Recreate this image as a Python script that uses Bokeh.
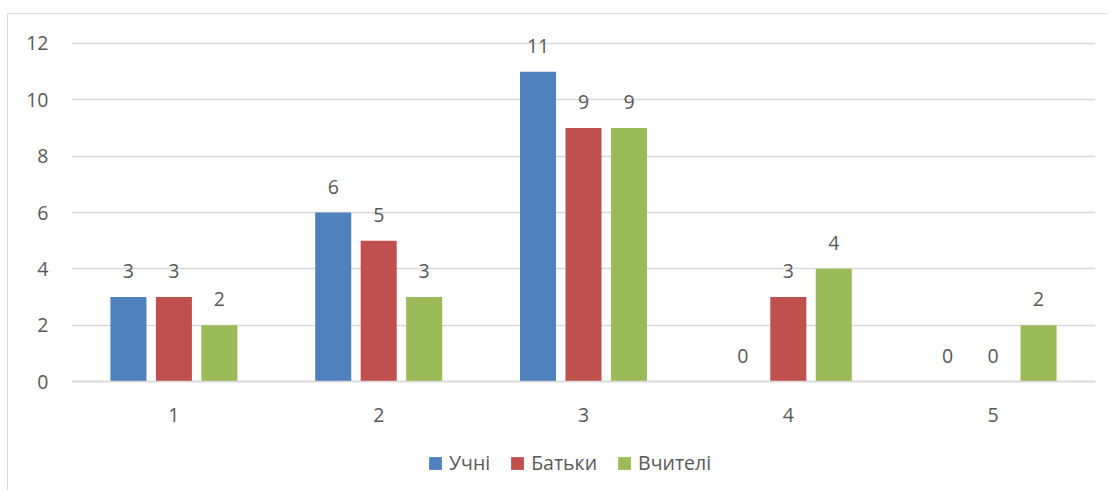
from bokeh.plotting import figure
from bokeh.models import (FactorRange, Range1d, FixedTicker, Legend, LegendItem,
                          ColumnDataSource)
from bokeh.transform import dodge
from bokeh.core.properties import value
from bokeh.embed import file_html
from bokeh.resources import INLINE

categories = ["1", "2", "3", "4", "5"]
series_names = ["Учні", "Батьки", "Вчителі"]
uchni = [3, 6, 11, 0, 0]
batky = [3, 5, 9, 3, 0]
vchyteli = [2, 3, 9, 4, 2]
y_ticks = [0, 2, 4, 6, 8, 10, 12]

colors = ["#4F81BD", "#C0504D", "#9BBB59"]
FONT = "Open Sans"
FS = "19.5px"
TXT = "#595959"
GRID = "#D9D9D9"

source = ColumnDataSource(data=dict(
    cat=categories, s0=uchni, s1=batky, s2=vchyteli,
    l0=[str(v) for v in uchni], l1=[str(v) for v in batky], l2=[str(v) for v in vchyteli],
))

# frame spans the whole canvas height; extra room below 0 holds tick labels and legend
p = figure(width=1100, height=477, x_range=FactorRange(factors=categories),
           y_range=Range1d(-3.834, 12.497), output_backend="svg", toolbar_location=None,
           min_border_left=63, min_border_right=13, min_border_top=15,
           min_border_bottom=2)
p.outline_line_color = None
p.background_fill_color = "white"
p.border_fill_color = "white"
p.styles = {"margin-left": "7px", "margin-top": "13px",
            "border-left": "1px solid #D9D9D9", "border-top": "1px solid #D9D9D9"}

offsets = [-0.222, 0.0, 0.222]
renderers = []
for i, (name, col) in enumerate(zip(series_names, colors)):
    r = p.vbar(x=dodge("cat", offsets[i], range=p.x_range), top="s%d" % i,
               width=0.176, source=source, fill_color=col, line_color=None)
    renderers.append(r)
    p.text(x=dodge("cat", offsets[i], range=p.x_range), y="s%d" % i, text="l%d" % i,
           source=source, text_align="center", text_baseline="middle",
           y_offset=-26, text_font=value(FONT), text_font_size=FS,
           text_color=TXT)

p.yaxis.ticker = FixedTicker(ticks=y_ticks)
p.yaxis.axis_line_color = None
p.yaxis.major_tick_line_color = None
p.yaxis.minor_tick_line_color = None
p.yaxis.major_tick_in = 0
p.yaxis.major_tick_out = 0
p.yaxis.major_label_standoff = 23
p.yaxis.major_label_text_font = FONT
p.yaxis.major_label_text_font_size = FS
p.yaxis.major_label_text_color = TXT

p.xaxis.fixed_location = 0
p.xaxis.axis_line_color = GRID
p.xaxis.axis_line_width = 1.3
p.xaxis.major_tick_line_color = None
p.xaxis.major_tick_in = 0
p.xaxis.major_tick_out = 0
p.xaxis.major_label_standoff = 26
p.xaxis.major_label_text_font = FONT
p.xaxis.major_label_text_font_size = FS
p.xaxis.major_label_text_color = TXT

p.xgrid.grid_line_color = None
p.ygrid.grid_line_color = GRID
p.ygrid.grid_line_width = 1.3

legend = Legend(items=[LegendItem(label=n, renderers=[r]) for n, r in zip(series_names, renderers)],
                orientation="horizontal", location=(356, 13),
                glyph_width=16, glyph_height=16, label_standoff=6, spacing=19,
                padding=0, margin=0, border_line_color=None, background_fill_alpha=0,
                label_text_font=FONT, label_text_font_size=FS, label_text_color=TXT)
p.add_layout(legend, "center")

open("out.html", "w").write(file_html(p, INLINE))
